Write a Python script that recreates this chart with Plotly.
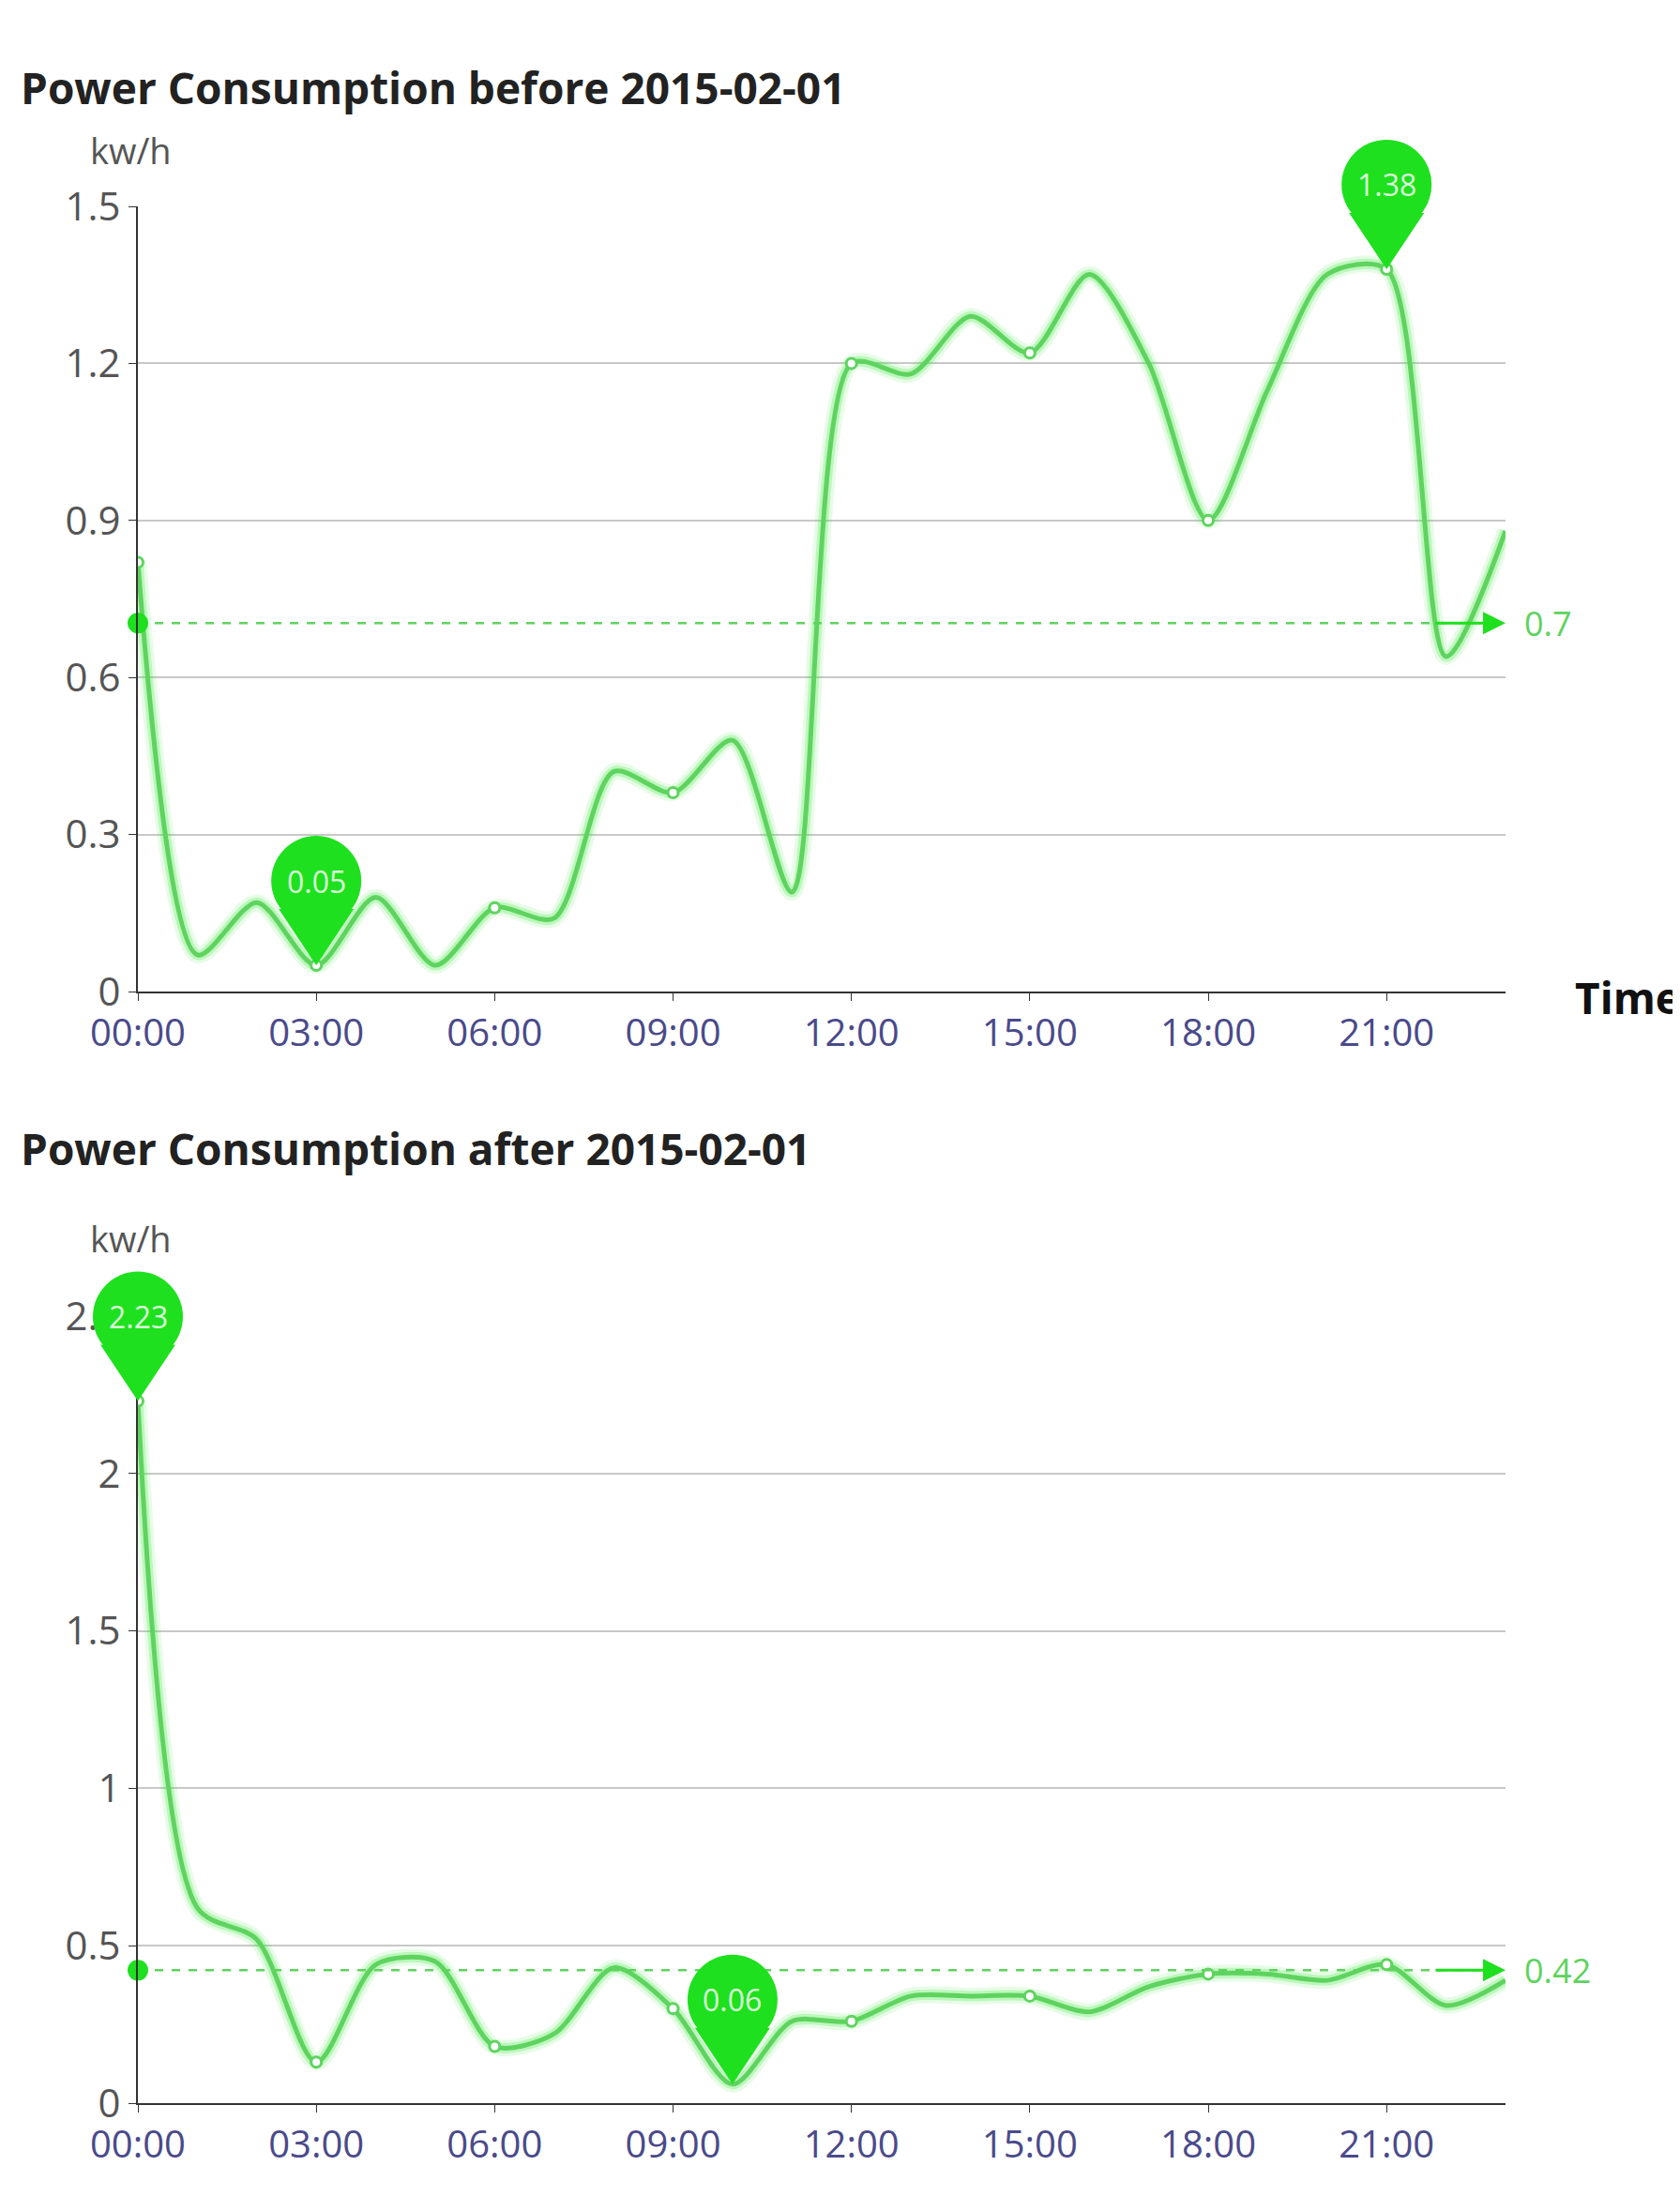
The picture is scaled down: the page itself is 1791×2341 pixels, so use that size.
import plotly.graph_objects as go

hours = list(range(24))
tick_vals = [0, 3, 6, 9, 12, 15, 18, 21]
tick_text = ["00:00", "03:00", "06:00", "09:00", "12:00", "15:00", "18:00", "21:00"]
before = [0.82, 0.07, 0.17, 0.05, 0.18, 0.05, 0.16, 0.14, 0.42, 0.38, 0.48, 0.19,
          1.20, 1.18, 1.29, 1.22, 1.37, 1.20, 0.90, 1.15, 1.37, 1.38, 0.64, 0.88]
after = [2.23, 0.62, 0.52, 0.13, 0.44, 0.45, 0.18, 0.22, 0.43, 0.30, 0.06, 0.26,
         0.26, 0.34, 0.34, 0.34, 0.29, 0.37, 0.41, 0.41, 0.39, 0.44, 0.31, 0.39]
titles = ["Power Consumption before 2015-02-01", "Power Consumption after 2015-02-01"]

G = "#5fd35f"
PIN = "#1ee01e"
fig = go.Figure()
W, H = 1791, 2341
xdom = [139 / W, 1597 / W]
ydoms = [[1 - 1049 / H, 1 - 212 / H], [1 - 2234 / H, 1 - 1395 / H]]
yranges = [[0, 1.5], [0, 2.5]]
ydtick = [0.3, 0.5]
title_y = [52, 1216]
unit_y = [124, 1312]

shapes, annots = [], []
for i, data in enumerate([before, after]):
    xa = "x" if i == 0 else "x2"
    ya = "y" if i == 0 else "y2"
    for w, op in [(18, 0.12), (11, 0.25)]:
        fig.add_trace(go.Scatter(x=hours, y=data, mode="lines", xaxis=xa, yaxis=ya,
                                 line=dict(color=f"rgba(60,230,60,{op})", width=w, shape="spline", smoothing=0.8),
                                 hoverinfo="skip", showlegend=False))
    fig.add_trace(go.Scatter(x=hours, y=data, mode="lines", xaxis=xa, yaxis=ya,
                             line=dict(color=G, width=5, shape="spline", smoothing=0.8), showlegend=False))
    fig.add_trace(go.Scatter(x=tick_vals, y=[data[h] for h in tick_vals], mode="markers", xaxis=xa, yaxis=ya,
                             marker=dict(size=11, color="white", line=dict(color=G, width=3)), showlegend=False))
    avg = sum(data) / len(data)
    fig.add_trace(go.Scatter(x=[0, 23], y=[avg, avg], mode="lines", xaxis=xa, yaxis=ya,
                             line=dict(color=G, width=2.5, dash="dash"), showlegend=False))
    fig.add_trace(go.Scatter(x=[0], y=[avg], mode="markers", xaxis=xa, yaxis=ya,
                             marker=dict(size=22, color=PIN), showlegend=False, cliponaxis=False))
    annots.append(dict(x=23, y=avg, ax=21.8, ay=avg, xref=xa, yref=ya, axref=xa, ayref=ya,
                       showarrow=True, arrowhead=2, arrowsize=1.6, arrowwidth=3, arrowcolor=PIN, text=""))
    annots.append(dict(x=23, y=avg, xref=xa, yref=ya, text=f"{round(avg, 2):g}", showarrow=False,
                       xanchor="left", xshift=18, font=dict(size=36, color=G)))
    y0d, y1d = ydoms[i]
    for idx in [data.index(max(data)), data.index(min(data))]:
        v = data[idx]
        px = xdom[0] + idx / 23 * (xdom[1] - xdom[0])
        py = y0d + (v - yranges[i][0]) / (yranges[i][1] - yranges[i][0]) * (y1d - y0d)
        shapes.append(dict(type="path", xref="paper", yref="paper", xsizemode="pixel", ysizemode="pixel",
                           xanchor=px, yanchor=py, path="M -40 60 L 0 0 L 40 60 Z",
                           fillcolor=PIN, line=dict(width=0)))
        shapes.append(dict(type="circle", xref="paper", yref="paper", xsizemode="pixel", ysizemode="pixel",
                           xanchor=px, yanchor=py, x0=-48, x1=48, y0=42, y1=138,
                           fillcolor=PIN, line=dict(width=0)))
        annots.append(dict(x=idx, y=v, xref=xa, yref=ya, text=f"{v:g}", showarrow=False,
                           yshift=90, font=dict(size=32, color="#d8ffd8")))
    annots.append(dict(x=12 / W, y=1 - title_y[i] / H, xref="paper", yref="paper", xanchor="left",
                       text=f"<b>{titles[i]}</b>", showarrow=False,
                       font=dict(size=46, color="#222", family="Open Sans")))
    annots.append(dict(x=131 / W, y=1 - unit_y[i] / H, xref="paper", yref="paper", xanchor="center",
                       text="kw/h", showarrow=False, font=dict(size=38, color="#555")))
    axx = dict(domain=xdom, range=[0, 23], tickvals=tick_vals, ticktext=tick_text, showgrid=False,
               showline=True, linecolor="#333", linewidth=2, ticks="outside", ticklen=8, tickcolor="#333",
               tickfont=dict(size=40, color="#4a4a8a"), anchor=ya, zeroline=False, automargin=False)
    axy = dict(domain=ydoms[i], range=yranges[i], dtick=ydtick[i], showgrid=True, gridcolor="#c8c8c8",
               gridwidth=2, showline=True, linecolor="#333", linewidth=2, ticks="outside", ticklen=8,
               tickcolor="#333", tickfont=dict(size=42, color="#555"), anchor=xa, zeroline=False,
               automargin=False)
    if i == 0:
        fig.update_layout(xaxis=axx, yaxis=axy)
    else:
        fig.update_layout(xaxis2=axx, yaxis2=axy)

annots.append(dict(x=1 - 5 / W, y=1 - 1055 / H, xref="paper", yref="paper", xanchor="right",
                   text="<b>Time</b>", showarrow=False, font=dict(size=46, color="#111")))

fig.update_layout(width=W, height=H, margin=dict(l=0, r=0, t=0, b=0, autoexpand=False),
                  plot_bgcolor="white", paper_bgcolor="white", shapes=shapes, annotations=annots,
                  font=dict(family="Open Sans"))
fig.write_html("out.html")
